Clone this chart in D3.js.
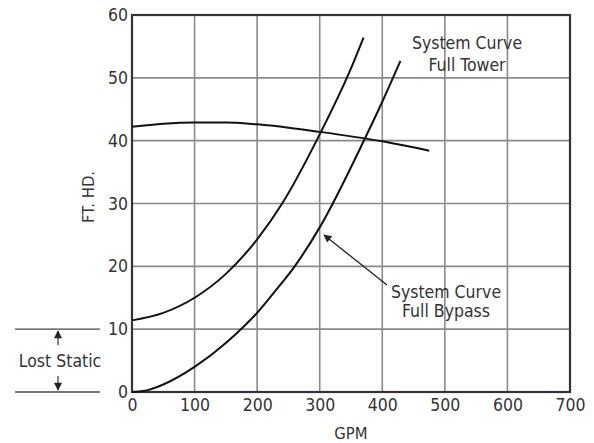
<!DOCTYPE html>
<html><head><meta charset="utf-8">
<script src="https://cdn.jsdelivr.net/npm/d3@7"></script>
<style>
body{margin:0;background:#fff;}
text{font-family:"Liberation Sans Narrow","DejaVu Sans Condensed","Open Sans",sans-serif;fill:#333;}
</style></head>
<body>
<svg id="c" width="594" height="443"></svg>
<script>
const xTicks = [0,100,200,300,400,500,600,700];
const yTicks = [0,10,20,30,40,50,60];
const pumpX = [0,50,100,150,200,300,400,475];
const pumpY = [42.2,42.7,42.9,42.9,42.6,41.4,39.9,38.4];
const towerX = [0,50,100,150,200,240,300,350,370];
const towerY = [11.4,12.6,15,18.8,24.3,30,41,51.5,56.4];
const bypassX = [0,25,50,100,150,200,230,260,300,372,400,429];
const bypassY = [0,0.3,1.2,4,7.8,12.6,16.2,20,26.2,40.3,46.2,52.7];
const towerLabel = ["System Curve","Full Tower"];
const bypassLabel = ["System Curve","Full Bypass"];
const lostStatic = "Lost Static";
const lostRange = [0,10];

const FF = "\"Liberation Sans Narrow\",\"DejaVu Sans Condensed\",sans-serif";
const FS = 17.5;
const svg = d3.select("#c");
const m = {l:132, r:570, t:15, b:392};
const x = d3.scaleLinear().domain([0,700]).range([m.l,m.r]);
const y = d3.scaleLinear().domain([0,60]).range([m.b,m.t]);

// grid
svg.append("g").selectAll("line").data(xTicks.slice(1,-1)).join("line")
  .attr("x1",d=>x(d)).attr("x2",d=>x(d)).attr("y1",m.t).attr("y2",m.b)
  .attr("stroke","#8a8a8a").attr("stroke-width",1.6);
svg.append("g").selectAll("line").data(yTicks.slice(1,-1)).join("line")
  .attr("x1",m.l).attr("x2",m.r).attr("y1",d=>y(d)).attr("y2",d=>y(d))
  .attr("stroke","#8a8a8a").attr("stroke-width",1.6);

// axes labels via d3 axes
const xa = svg.append("g").attr("transform",`translate(0,${m.b})`)
  .call(d3.axisBottom(x).tickValues(xTicks).tickSize(0).tickPadding(7));
const ya = svg.append("g").attr("transform",`translate(${m.l},0)`)
  .call(d3.axisLeft(y).tickValues(yTicks).tickSize(0).tickPadding(4));
[xa,ya].forEach(a=>{a.select(".domain").remove();
  a.selectAll("text").attr("font-size",FS).attr("fill","#333").attr("font-family",FF);});

// border
svg.append("rect").attr("x",m.l).attr("y",m.t).attr("width",m.r-m.l).attr("height",m.b-m.t)
  .attr("fill","none").attr("stroke","#333").attr("stroke-width",2.2);

const line = d3.line().x(d=>x(d[0])).y(d=>y(d[1])).curve(d3.curveMonotoneX);
[[pumpX,pumpY],[towerX,towerY],[bypassX,bypassY]].forEach(([xs,ys])=>{
  svg.append("path").datum(xs.map((v,i)=>[v,ys[i]])).attr("d",line)
    .attr("fill","none").attr("stroke","#111").attr("stroke-width",2);
});

// axis titles
svg.append("text").attr("x",x(350)).attr("y",439).attr("text-anchor","middle")
  .attr("font-size",FS-1).text("GPM");
svg.append("text").attr("transform",`translate(94,197) rotate(-90)`)
  .attr("text-anchor","middle").attr("font-size",FS-1).text("FT. HD.");

// curve labels
const tl = svg.append("text").attr("font-size",FS).attr("text-anchor","middle");
tl.append("tspan").attr("x",467).attr("y",49).text(towerLabel[0]);
tl.append("tspan").attr("x",467).attr("y",71).text(towerLabel[1]);
const bl = svg.append("text").attr("font-size",FS).attr("text-anchor","middle");
bl.append("tspan").attr("x",446).attr("y",298).text(bypassLabel[0]);
bl.append("tspan").attr("x",446).attr("y",317).text(bypassLabel[1]);

// arrow
const defs = svg.append("defs");
defs.append("marker").attr("id","ah").attr("viewBox","0 0 10 10").attr("refX",9).attr("refY",5)
  .attr("markerWidth",10).attr("markerHeight",8).attr("markerUnits","userSpaceOnUse").attr("orient","auto")
  .append("path").attr("d","M0,0L10,5L0,10Z").attr("fill","#222");
svg.append("line").attr("x1",387).attr("y1",285).attr("x2",324).attr("y2",235)
  .attr("stroke","#222").attr("stroke-width",1.3).attr("marker-end","url(#ah)");

// lost static
lostRange.forEach(v=>{
  svg.append("line").attr("x1",15).attr("x2",100).attr("y1",y(v)).attr("y2",y(v))
    .attr("stroke","#444").attr("stroke-width",1.4);
});
svg.append("line").attr("x1",58).attr("x2",58).attr("y1",y(lostRange[1])+16).attr("y2",y(lostRange[1])+2)
  .attr("stroke","#333").attr("stroke-width",1.2).attr("marker-end","url(#ah)");
svg.append("line").attr("x1",58).attr("x2",58).attr("y1",y(lostRange[0])-16).attr("y2",y(lostRange[0])-2)
  .attr("stroke","#333").attr("stroke-width",1.2).attr("marker-end","url(#ah)");
svg.append("text").attr("x",60).attr("y",(y(lostRange[0])+y(lostRange[1]))/2+6)
  .attr("text-anchor","middle").attr("font-size",FS).text(lostStatic);
</script>
</body></html>
